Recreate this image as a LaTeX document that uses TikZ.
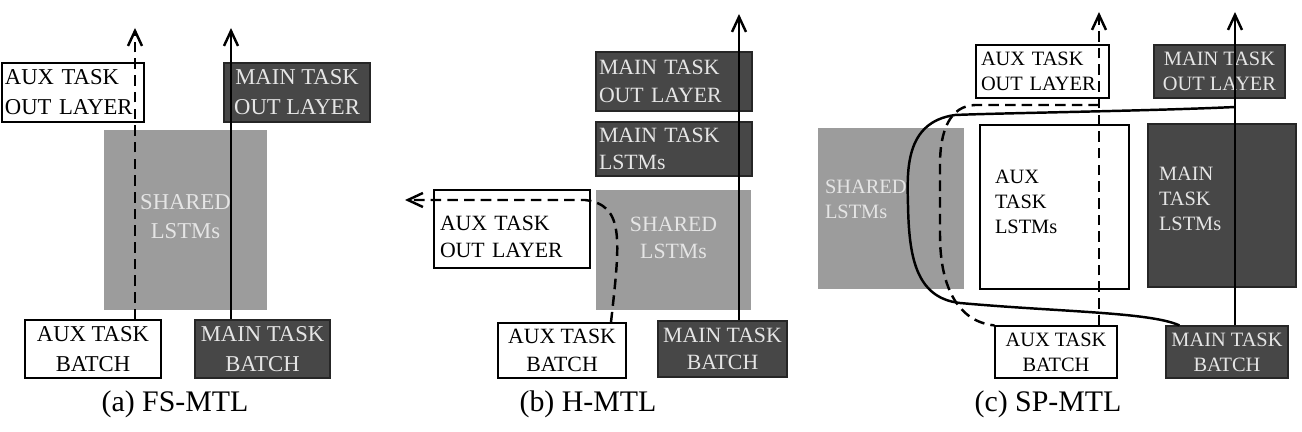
\documentclass[tikz,border=0pt]{standalone}
\usepackage{fontspec}
\setmainfont{Liberation Serif}
\usetikzlibrary{arrows.meta}
\definecolor{maindark}{gray}{0.28}
\definecolor{sharedgray}{gray}{0.61}
\definecolor{lighttext}{gray}{0.90}
\tikzset{
  blk/.style={inner sep=0pt, align=center},
  auxbox/.style={blk, draw=black, line width=0.7pt, fill=white},
  mainbox/.style={blk, draw=black!85, line width=0.7pt, fill=maindark, text=lighttext},
  sharedbox/.style={blk, fill=sharedgray, text=lighttext},
  sz/.style 2 args={minimum width=#1*0.02cm, minimum height=#2*0.02cm},
  lft/.code={\pgfmathsetlengthmacro\boxtw{#1*0.02cm}\tikzset{text width=\boxtw, align=left}},
  raise/.style={text depth=#1},
  flowline/.style={line width=1.4pt},
  flow/.style={flowline, -{Straight Barb[length=0.3cm,width=0.28cm]}},
  auxdash/.style={dash pattern=on 6pt off 3.5pt},
  captext/.style={font=\fontsize{17}{20}\selectfont}
}
\begin{document}
\begin{tikzpicture}[x=0.02cm, y=-0.02cm]
\useasboundingbox (0,0) rectangle (1302,432);
% (a) FS-MTL
\begin{scope}[shift={(0,0)}, font=\fontsize{12.9}{17}\selectfont]
\node[auxbox, sz={142}{59}, lft=136] (auxouta) at (73,92.5) {AUX TASK\\OUT LAYER};
\node[mainbox, sz={146}{59}] (mainouta) at (297,92.5) {MAIN TASK\\OUT LAYER};
\node[sharedbox, sz={163}{180}, raise=4pt] (shareda) at (185.5,220) {SHARED\\LSTMs};
\node[auxbox, sz={136}{58}] (auxbatcha) at (93,349) {AUX TASK\\BATCH};
\node[mainbox, sz={135}{58}] (mainbatcha) at (262.5,349) {MAIN TASK\\BATCH};
\coordinate (auxtipa) at (135,28);
\coordinate (maintipa) at (231,28);
\draw[flow, auxdash] (auxbatcha.north -| auxtipa) -- (auxtipa);
\draw[flow] (mainbatcha.north -| maintipa) -- (maintipa);
\node[captext] (capa) at (175,404) {(a) FS-MTL};
\end{scope}
% (b) H-MTL
\begin{scope}[shift={(400,0)}, font=\fontsize{12.4}{15.5}\selectfont]
\node[mainbox, sz={156}{59}, lft=150] (mainoutb) at (274,81.5) {MAIN TASK\\OUT LAYER};
\node[mainbox, sz={156}{54}, lft=150] (mainlstmb) at (274,149) {MAIN TASK\\LSTMs};
\node[sharedbox, sz={155}{120}, raise=13.6pt] (sharedb) at (273.5,250) {SHARED\\LSTMs};
\node[auxbox, sz={156}{78}, lft=144, raise=6.5pt] (auxoutb) at (112,229) {AUX TASK\\OUT LAYER};
\node[auxbox, sz={128}{55}] (auxbatchb) at (162,350.5) {AUX TASK\\BATCH};
\node[mainbox, sz={129}{56}] (mainbatchb) at (322.5,349) {MAIN TASK\\BATCH};
\coordinate (auxtipb) at (5,200);
\coordinate (maintipb) at (339,14);
\draw[flow, auxdash] ([xshift=0.98cm]auxbatchb.north) .. controls (220,240) and (225,205) .. (185,200) -- (auxtipb);
\draw[flow] (mainbatchb.north -| maintipb) -- (maintipb);
\node[captext] (capb) at (188,404) {(b) H-MTL};
\end{scope}
% (c) SP-MTL
\begin{scope}[shift={(800,0)}, font=\fontsize{11.6}{14.2}\selectfont]
\node[auxbox, sz={133}{53}, lft=123] (auxoutc) at (242.5,71.5) {AUX TASK\\OUT LAYER};
\node[mainbox, sz={131}{53}] (mainoutc) at (419.5,71.5) {MAIN TASK\\OUT LAYER};
\node[sharedbox, sz={146}{161}, lft=132, raise=24.4pt] (sharedc) at (91,208.5) {SHARED\\LSTMs};
\node[auxbox, sz={149}{164}, lft=119, raise=34pt] (auxlstmc) at (254.5,207) {AUX\\TASK\\LSTMs};
\node[mainbox, sz={148}{163}, lft=126, raise=36.4pt] (mainlstmc) at (422,205.5) {MAIN\\TASK\\LSTMs};
\node[auxbox, sz={122}{52}] (auxbatchc) at (256,352) {AUX TASK\\BATCH};
\node[mainbox, sz={122}{52}] (mainbatchc) at (427,352) {MAIN TASK\\BATCH};
\coordinate (auxtipc) at (299,12);
\coordinate (maintipc) at (435,12);
\coordinate (auxsplitc) at (299,105);
\coordinate (mainsplitc) at (435,107);
\draw[flow, auxdash] (auxbatchc.north -| auxtipc) -- (auxtipc);
\draw[flow] (mainbatchc.north -| maintipc) -- (maintipc);
\draw[flowline] (mainsplitc) .. controls (350,111) and (200,113) .. (155,115)
  .. controls (105,122) and (107,170) .. (108,205)
  .. controls (109,255) and (115,298) .. (160,303)
  .. controls (260,312) and (350,312) .. ([xshift=0.28cm]mainbatchc.north west);
\draw[flowline, auxdash] (auxsplitc) -- (175,105) .. controls (150,106) and (140,130) .. (140,165)
  -- (140,235) .. controls (140,290) and (160,322) .. (auxbatchc.north west);
\node[captext] (capc) at (248,404) {(c) SP-MTL};
\end{scope}
\end{tikzpicture}
\end{document}
